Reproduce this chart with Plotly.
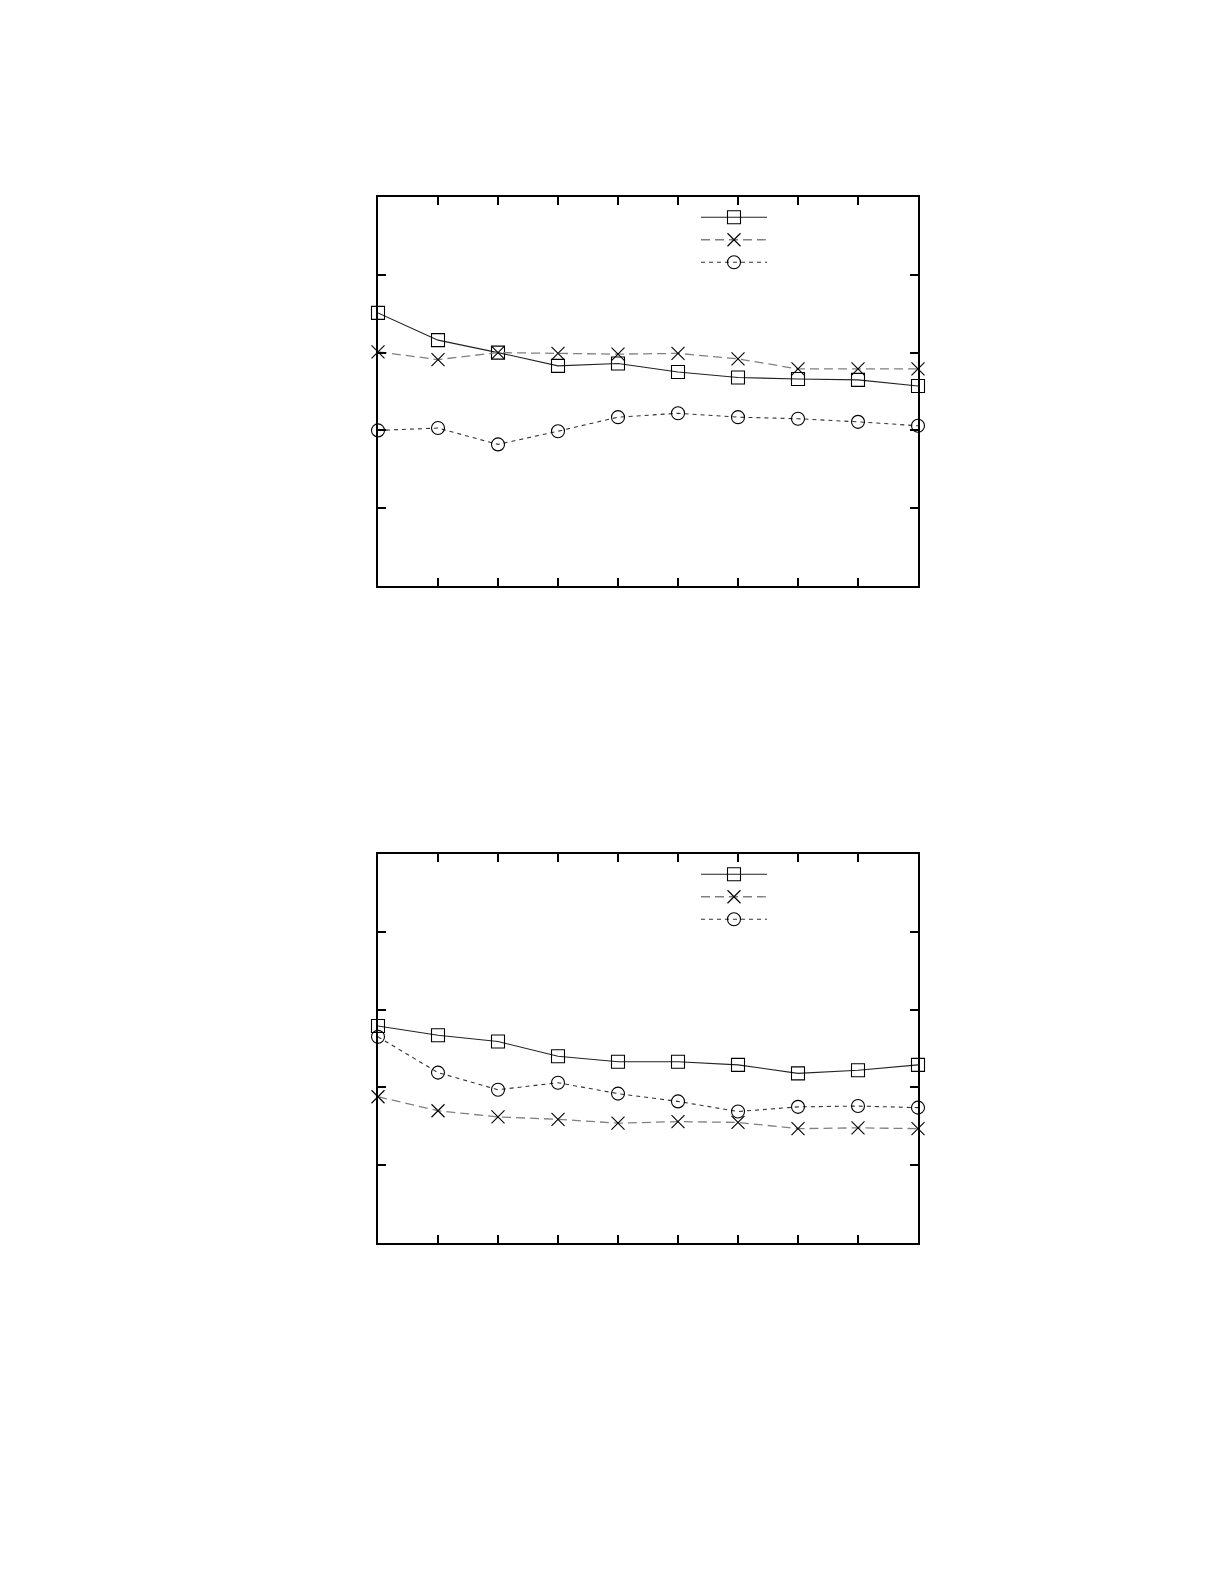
import plotly.graph_objects as go

x_vals = [1, 2, 3, 4, 5, 6, 7, 8, 9, 10]

# top panel
top_square = [3.51, 3.16, 3.00, 2.83, 2.86, 2.75, 2.68, 2.66, 2.65, 2.57]
top_cross = [3.01, 2.91, 3.00, 2.99, 2.98, 2.99, 2.92, 2.79, 2.79, 2.79]
top_circle = [2.00, 2.03, 1.82, 1.99, 2.17, 2.22, 2.17, 2.15, 2.11, 2.06]

# bottom panel
bot_square = [2.79, 2.67, 2.59, 2.40, 2.33, 2.33, 2.29, 2.18, 2.22, 2.29]
bot_cross = [1.88, 1.70, 1.62, 1.59, 1.54, 1.56, 1.55, 1.47, 1.48, 1.47]
bot_circle = [2.65, 2.19, 1.97, 2.06, 1.92, 1.82, 1.69, 1.75, 1.76, 1.74]

OFF = 8  # default page margin
W, H = 1225 - 2 * OFF, 1585 - 2 * OFF


def px_x(p):
    return (p - OFF) / W


def px_y(p):
    return 1 - (p - OFF) / H


styles = [
    dict(line=dict(color="#222222", width=1.1, dash="solid"),
         marker=dict(symbol="square-open", size=13, color="black", line=dict(width=1.1))),
    dict(line=dict(color="#808080", width=1.3, dash="9px,5px"),
         marker=dict(symbol="x-thin-open", size=13, color="black", line=dict(width=1.1, color="black"))),
    dict(line=dict(color="#333333", width=1.1, dash="4px,4px"),
         marker=dict(symbol="circle-open", size=13, color="black", line=dict(width=1.1))),
]

fig = go.Figure()
panels = [
    ("x", "y", "legend", [top_square, top_cross, top_circle]),
    ("x2", "y2", "legend2", [bot_square, bot_cross, bot_circle]),
]
for xa, ya, lg, series in panels:
    for s, st in zip(series, styles):
        fig.add_trace(go.Scatter(
            x=x_vals, y=s, xaxis=xa, yaxis=ya, mode="lines+markers",
            name=" ", legend=lg, line=st["line"], marker=st["marker"],
            cliponaxis=False,
        ))

xd = [px_x(378), px_x(918)]
d1 = [px_y(586), px_y(197)]
d2 = [px_y(1243), px_y(854)]

axis_common = dict(showgrid=False, zeroline=False, showline=True, linecolor="black",
                   linewidth=1.5, mirror="ticks", ticks="inside", ticklen=8,
                   tickwidth=1.5, tickcolor="black", showticklabels=False)

legend_common = dict(xanchor="left", yanchor="top", bgcolor="rgba(0,0,0,0)",
                     font=dict(size=15), tracegroupgap=0, itemwidth=66)

fig.update_layout(
    width=W, height=H, margin=dict(l=0, r=0, t=0, b=0),
    paper_bgcolor="white", plot_bgcolor="white",
    xaxis=dict(domain=xd, range=[1, 10], anchor="y", tickvals=x_vals, **axis_common),
    yaxis=dict(domain=d1, range=[0, 5], anchor="x", tickvals=[0, 1, 2, 3, 4, 5], **axis_common),
    xaxis2=dict(domain=xd, range=[1, 10], anchor="y2", tickvals=x_vals, **axis_common),
    yaxis2=dict(domain=d2, range=[0, 5], anchor="x2", tickvals=[0, 1, 2, 3, 4, 5], **axis_common),
    legend=dict(x=px_x(696), y=px_y(201), **legend_common),
    legend2=dict(x=px_x(696), y=px_y(858), **legend_common),
    showlegend=True,
)

fig.write_html("out.html", config={"displayModeBar": False})
